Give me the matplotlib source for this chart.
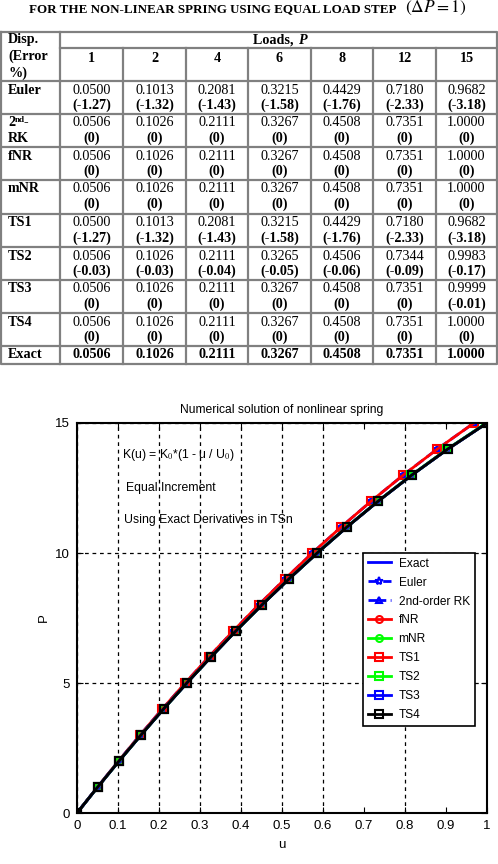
import matplotlib
matplotlib.use("Agg")
import matplotlib.pyplot as plt
import numpy as np

# ---- table data ----
loads = [1, 2, 4, 6, 8, 12, 15]
methods = ["Euler", "2nd-RK", "fNR", "mNR", "TS1", "TS2", "TS3", "TS4"]
disp = {
    "Euler":  [0.0500, 0.1013, 0.2081, 0.3215, 0.4429, 0.7180, 0.9682],
    "2nd-RK": [0.0506, 0.1026, 0.2111, 0.3267, 0.4508, 0.7351, 1.0000],
    "fNR":    [0.0506, 0.1026, 0.2111, 0.3267, 0.4508, 0.7351, 1.0000],
    "mNR":    [0.0506, 0.1026, 0.2111, 0.3267, 0.4508, 0.7351, 1.0000],
    "TS1":    [0.0500, 0.1013, 0.2081, 0.3215, 0.4429, 0.7180, 0.9682],
    "TS2":    [0.0506, 0.1026, 0.2111, 0.3265, 0.4506, 0.7344, 0.9983],
    "TS3":    [0.0506, 0.1026, 0.2111, 0.3267, 0.4508, 0.7351, 0.9999],
    "TS4":    [0.0506, 0.1026, 0.2111, 0.3267, 0.4508, 0.7351, 1.0000],
}
errors = {
    "Euler":  [-1.27, -1.32, -1.43, -1.58, -1.76, -2.33, -3.18],
    "2nd-RK": [0, 0, 0, 0, 0, 0, 0],
    "fNR":    [0, 0, 0, 0, 0, 0, 0],
    "mNR":    [0, 0, 0, 0, 0, 0, 0],
    "TS1":    [-1.27, -1.32, -1.43, -1.58, -1.76, -2.33, -3.18],
    "TS2":    [-0.03, -0.03, -0.04, -0.05, -0.06, -0.09, -0.17],
    "TS3":    [0, 0, 0, 0, 0, 0, -0.01],
    "TS4":    [0, 0, 0, 0, 0, 0, 0],
}
exact_row = [0.0506, 0.1026, 0.2111, 0.3267, 0.4508, 0.7351, 1.0000]

# ---- chart data (P = 0..15) ----
P = [0, 1, 2, 3, 4, 5, 6, 7, 8, 9, 10, 11, 12, 13, 14, 15]
u_exact = [0, 0.0506, 0.1026, 0.1561, 0.2111, 0.2679, 0.3267, 0.3875, 0.4508,
           0.5168, 0.5858, 0.6584, 0.7351, 0.8168, 0.9046, 1.0]
u_euler = [0, 0.0500, 0.1013, 0.1539, 0.2081, 0.2639, 0.3215, 0.3811, 0.4429,
           0.5071, 0.5741, 0.6442, 0.7180, 0.7960, 0.8790, 0.9682]
u_ts2 = [0, 0.0506, 0.1026, 0.1560, 0.2111, 0.2678, 0.3265, 0.3873, 0.4506,
         0.5165, 0.5854, 0.6578, 0.7344, 0.8158, 0.9031, 0.9983]
u_ts3 = [0, 0.0506, 0.1026, 0.1561, 0.2111, 0.2679, 0.3267, 0.3875, 0.4508,
         0.5168, 0.5858, 0.6584, 0.7351, 0.8168, 0.9046, 0.9999]

SANS = ["Liberation Sans", "DejaVu Sans"]
SERIF = "Liberation Serif"
plt.rcParams["font.family"] = SANS
plt.rcParams["mathtext.fontset"] = "stix"

fig = plt.figure(figsize=(4.98, 8.64), dpi=100)

# ---------------- table (pixel coordinates) ----------------
tb = fig.add_axes([0, 0, 1, 1])
tb.set_xlim(0, 498)
tb.set_ylim(864, 0)
tb.axis("off")

tb.text(29, 9, "FOR THE NON-LINEAR SPRING USING EQUAL LOAD STEP", family=SERIF,
        fontsize=9.4, fontweight="bold", ha="left", va="center")
tb.text(405, 8, r"$(\Delta P = 1)$", fontsize=12.5, ha="left", va="center")

gc = "#808080"
col_x = [1, 60, 123, 186, 248, 311, 373, 436, 497]
row_y = [32, 81, 114, 147, 180, 214, 247, 280, 313, 346, 364]
lw = 1.6
# outer frame
tb.plot([1, 497, 497, 1, 1], [32, 32, 364, 364, 32], color=gc, lw=lw)
tb.plot([60, 60], [32, 364], color=gc, lw=lw)
tb.plot([60, 497], [48, 48], color=gc, lw=lw)
for x in col_x[2:-1]:
    tb.plot([x, x], [48, 364], color=gc, lw=lw)
for y in row_y[1:-1]:
    tb.plot([1, 497], [y, y], color=gc, lw=lw)

fs = 10.2
for i, t in enumerate(["Disp.", "(Error", "%)"]):
    tb.text(8, 40 + 16.5 * i, t, family=SERIF, fontsize=fs, fontweight="bold",
            ha="left", va="center")
tb.text(297, 40, "Loads, ", family=SERIF, fontsize=fs, fontweight="bold",
        ha="right", va="center")
tb.text(298, 40, "P", family=SERIF, fontsize=fs, fontweight="bold",
        style="italic", ha="left", va="center")

centers = [(col_x[j + 1] + col_x[j + 2]) / 2 for j in range(len(loads))]
for j, L in enumerate(loads):
    tb.text(centers[j], 58, str(L), family=SERIF, fontsize=fs,
            fontweight="bold", ha="center", va="center")

for i, m in enumerate(methods):
    top = row_y[i + 1]
    if m == "2nd-RK":
        tb.text(8, top + 9, "2", family=SERIF, fontsize=fs, fontweight="bold",
                ha="left", va="center")
        tb.text(14.5, top + 5.5, "nd", family=SERIF, fontsize=6.5,
                fontweight="bold", ha="left", va="center")
        tb.text(23.5, top + 9, "-", family=SERIF, fontsize=fs,
                fontweight="bold", ha="left", va="center")
        tb.text(8, top + 24, "RK", family=SERIF, fontsize=fs, fontweight="bold",
                ha="left", va="center")
    else:
        tb.text(8, top + 9, m, family=SERIF, fontsize=fs, fontweight="bold",
                ha="left", va="center")
    for j in range(len(loads)):
        tb.text(centers[j], top + 9, f"{disp[m][j]:.4f}", family=SERIF,
                fontsize=fs, ha="center", va="center")
        e = errors[m][j]
        es = "(0)" if e == 0 else f"({e:.2f})"
        tb.text(centers[j], top + 24, es, family=SERIF, fontsize=fs,
                fontweight="bold", ha="center", va="center")

tb.text(8, 355, "Exact", family=SERIF, fontsize=fs, fontweight="bold",
        ha="left", va="center")
for j in range(len(loads)):
    tb.text(centers[j], 355, f"{exact_row[j]:.4f}", family=SERIF, fontsize=fs,
            fontweight="bold", ha="center", va="center")

# ---------------- chart ----------------
ax = fig.add_axes([77 / 498, 1 - 813 / 864, 410 / 498, 390 / 864])

series = [
    ("Exact", u_exact, dict(color="#0000ff", ls="-", marker="None")),
    ("Euler", u_euler, dict(color="#0000ff", ls="--", marker="*", ms=6)),
    ("2nd-order RK", u_exact, dict(color="#0000ff", ls="-.", marker="^", ms=5)),
    ("fNR", u_exact, dict(color="#ff0000", ls="-", marker="o", ms=5)),
    ("mNR", u_exact, dict(color="#00ff00", ls="-", marker="o", ms=5)),
    ("TS1", u_euler, dict(color="#ff0000", ls="-", marker="s", ms=6)),
    ("TS2", u_ts2, dict(color="#00ff00", ls="-", marker="s", ms=6)),
    ("TS3", u_ts3, dict(color="#0000ff", ls="-", marker="s", ms=6)),
    ("TS4", u_exact, dict(color="#000000", ls="-", marker="s", ms=6)),
]
for name, u, st in series:
    ax.plot(u, P, label=name, lw=2, mfc="none", mew=1.5, **st)

ax.set_xlim(0, 1)
ax.set_ylim(0, 15)
xt = np.round(np.arange(0, 1.01, 0.1), 1)
ax.set_xticks(xt)
ax.set_xticklabels([f"{t:g}" for t in xt])
ax.set_yticks([0, 5, 10, 15])
ax.tick_params(direction="in", top=True, right=True, labelsize=9.5, length=4,
               pad=5)
ax.grid(True, color="k", ls=(0, (3, 3)), lw=0.9)
for k, gl in enumerate(ax.get_xgridlines()):
    if k in (7, 9):
        gl.set_visible(False)
for s in ax.spines.values():
    s.set_linewidth(1.5)

ax.set_title("Numerical solution of nonlinear spring", fontsize=8.7, pad=7)
ax.set_xlabel("u", fontsize=9.5, labelpad=5)
ax.set_ylabel("P", fontsize=9.5, labelpad=4)

ax.text(0.109, 13.77, r"K(u) = K$_0$*(1 - u / U$_0$)", fontsize=8.8,
        ha="left", va="center")
ax.text(0.1195, 12.5, "Equal Increment", fontsize=8.8, ha="left", va="center")
ax.text(0.115, 11.27, "Using Exact Derivatives in TSn", fontsize=8.8,
        ha="left", va="center")

leg = ax.legend(loc="upper left", bbox_to_anchor=(0.697, 0.667), fontsize=8.6,
                fancybox=False, edgecolor="k", framealpha=1, borderpad=0.4,
                labelspacing=0.58, handlelength=2.0, handletextpad=0.6,
                borderaxespad=0)
leg.get_frame().set_linewidth(1.2)

fig.savefig("out.png", dpi=100)
